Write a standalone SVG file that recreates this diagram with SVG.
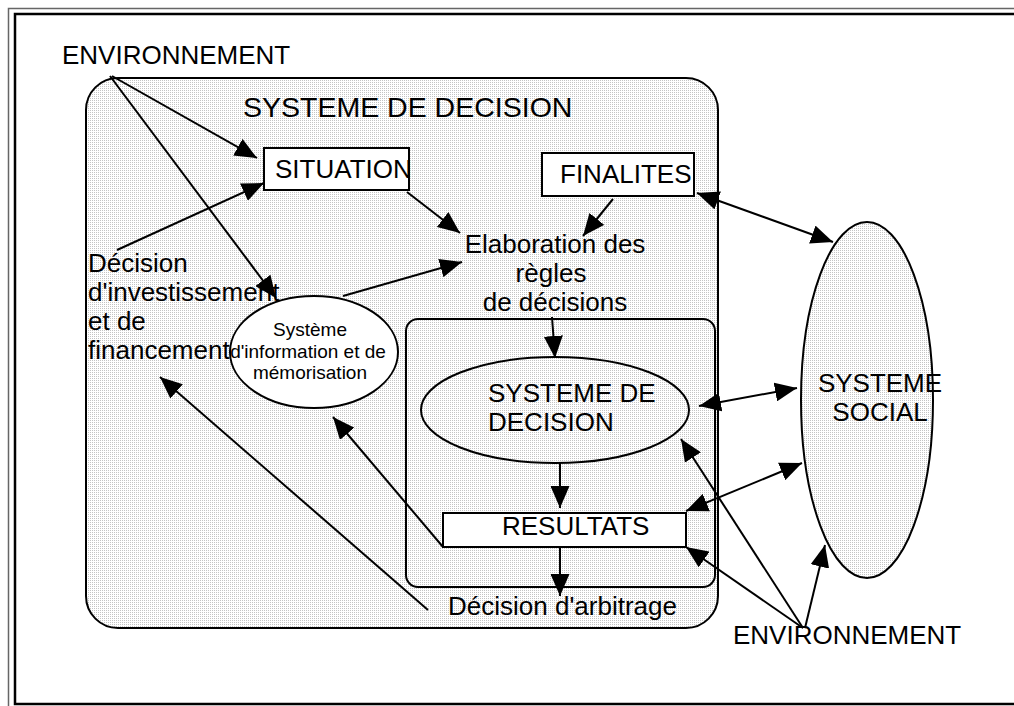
<svg xmlns="http://www.w3.org/2000/svg" width="1014" height="706" viewBox="0 0 1014 706">
<style>
text{font-family:"Liberation Sans",Arial,sans-serif;fill:#000}
.t26{font-size:26px}
.t19{font-size:19px}
.shape{stroke:#000;stroke-width:2}
.dot{fill:url(#dots)}
.white{fill:#fff}
.con line{stroke:#000;stroke-width:2;fill:none}
.a{marker-end:url(#ah)}
.aa{marker-end:url(#ah);marker-start:url(#ah)}
</style>
<defs>
<pattern id="dots" width="2" height="2" patternUnits="userSpaceOnUse"><rect width="2" height="2" fill="#fff"/><rect width="1" height="1" fill="#c4c4c4"/></pattern>
<marker id="ah" markerUnits="userSpaceOnUse" markerWidth="22" markerHeight="19" refX="22" refY="9.5" orient="auto-start-reverse" viewBox="0 0 22 19"><path d="M0,0 L22,9.5 L0,19 z" fill="#000"/></marker>
</defs>
<rect width="1014" height="706" fill="#fff"/>
<g id="frame">
<path d="M8.5,720 V8.5 H1030" fill="none" stroke="#666" stroke-width="1.5"/>
<rect x="15" y="14" width="1050" height="690" fill="none" stroke="#000" stroke-width="2.5"/>
</g>
<g id="systeme-decision-outer">
<rect class="shape dot" x="86" y="78" width="632" height="550" rx="32"/>
<text x="243" y="117" style="font-size:28.5px">SYSTEME DE DECISION</text>
</g>
<g id="systeme-decision-inner">
<rect class="shape dot" x="406" y="319" width="309" height="268" rx="12"/>
</g>
<g id="env-top"><text class="t26" x="62" y="64">ENVIRONNEMENT</text></g>
<g id="situation">
<rect class="shape white" x="264" y="148" width="145" height="42"/>
<text class="t26" x="275" y="178">SITUATION</text>
</g>
<g id="finalites">
<rect class="shape white" x="542" y="153" width="152" height="43"/>
<text class="t26" x="560" y="183">FINALITES</text>
</g>
<g id="elaboration">
<text class="t26" text-anchor="middle"><tspan x="555" y="253">Elaboration des</tspan><tspan x="551" y="282">règles</tspan><tspan x="555" y="311">de décisions</tspan></text>
</g>
<g id="decision-invest">
<text class="t26"><tspan x="88" y="272">Décision</tspan><tspan x="88" y="301">d'investissement</tspan><tspan x="88" y="330">et de</tspan><tspan x="88" y="359">financement</tspan></text>
</g>
<g id="systeme-information">
<ellipse class="shape white" cx="314" cy="352" rx="84" ry="56"/>
<text class="t19" text-anchor="middle"><tspan x="310" y="336">Système</tspan><tspan x="308" y="358">d'information et de</tspan><tspan x="310" y="379">mémorisation</tspan></text>
</g>
<g id="systeme-decision-ellipse">
<ellipse class="shape dot" cx="555" cy="410" rx="134" ry="53"/>
<text class="t26"><tspan x="488" y="402">SYSTEME DE</tspan><tspan x="488" y="431">DECISION</tspan></text>
</g>
<g id="resultats">
<rect class="shape white" x="443" y="513" width="243" height="34"/>
<text class="t26" x="502" y="535">RESULTATS</text>
</g>
<g id="decision-arbitrage"><text class="t26" x="448" y="615">Décision d'arbitrage</text></g>
<g id="systeme-social">
<ellipse class="shape dot" cx="867" cy="400" rx="66" ry="178"/>
<text class="t26" text-anchor="middle"><tspan x="880" y="392">SYSTEME</tspan><tspan x="880" y="421">SOCIAL</tspan></text>
</g>
<g id="env-bottom"><text class="t26" x="733" y="644">ENVIRONNEMENT</text></g>
<g id="connectors" class="con">
<line class="a" x1="112" y1="76" x2="257" y2="158"/>
<line class="a" x1="110" y1="76" x2="276" y2="298"/>
<line class="a" x1="117" y1="250" x2="264" y2="183"/>
<line class="a" x1="407" y1="192" x2="460" y2="233"/>
<line class="a" x1="613" y1="199" x2="583" y2="236"/>
<line class="a" x1="343" y1="296" x2="462" y2="262"/>
<line class="a" x1="552" y1="317" x2="555" y2="358"/>
<line class="a" x1="560" y1="463" x2="560" y2="508"/>
<line class="a" x1="560" y1="547" x2="560" y2="596"/>
<line class="a" x1="443" y1="547" x2="333" y2="417"/>
<line class="a" x1="428" y1="610" x2="160" y2="377"/>
<line class="aa" x1="697" y1="193" x2="833" y2="242"/>
<line class="aa" x1="699" y1="406" x2="797" y2="388"/>
<line class="aa" x1="686" y1="511" x2="802" y2="463"/>
<line class="a" x1="803" y1="628" x2="681" y2="439"/>
<line class="a" x1="803" y1="628" x2="686" y2="547"/>
<line class="a" x1="805" y1="628" x2="825" y2="545"/>
</g>
</svg>
